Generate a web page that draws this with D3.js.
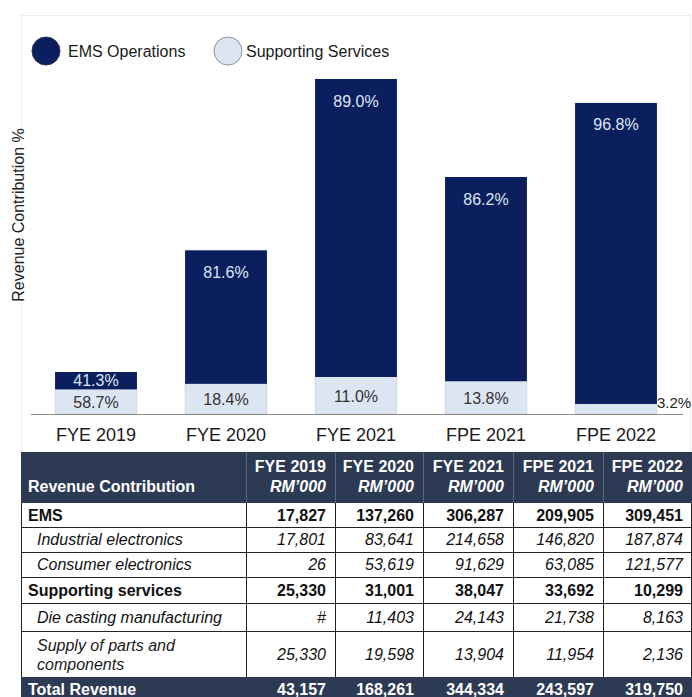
<!DOCTYPE html>
<html>
<head>
<meta charset="utf-8">
<script src="https://cdn.jsdelivr.net/npm/d3@7"></script>
<style>
  html, body { margin: 0; padding: 0; background: #ffffff; }
  svg { display: block; font-family: "Liberation Sans", Arial, sans-serif; }
</style>
</head>
<body>
<svg id="chart" width="692" height="697"></svg>
<script>
// Revenue by period (RM'000)
const periods = ["FYE 2019", "FYE 2020", "FYE 2021", "FPE 2021", "FPE 2022"];
const emsValues = [17827, 137260, 306287, 209905, 309451];
const supportValues = [25330, 31001, 38047, 33692, 10299];
const industrialValues = [17801, 83641, 214658, 146820, 187874];
const consumerValues = [26, 53619, 91629, 63085, 121577];
const dieCastingValues = [null, 11403, 24143, 21738, 8163];
const supplyPartsValues = [25330, 19598, 13904, 11954, 2136];
const totalValues = [43157, 168261, 344334, 243597, 319750];

const seriesNames = ["EMS Operations", "Supporting Services"];
const unitLabel = "RM\u2019000";

const NAVY = "#0b1f5e";
const LIGHT = "#dce6f2";
const HEADER = "#2c3a54";

const svg = d3.select("#chart");

// faint frame around the chart area
svg.append("rect")
  .attr("x", 21.5).attr("y", 15.5).attr("width", 669).attr("height", 437)
  .attr("fill", "none").attr("stroke", "#ececec");

// ---------- bar chart ----------
const x = d3.scaleBand().domain(periods).range([31, 681])
  .paddingInner(0.37).paddingOuter(0.185);
const y = d3.scaleLinear().domain([0, d3.max(totalValues)]).range([414, 79]);

const stackData = periods.map((p, i) => ({ period: p, support: supportValues[i], ems: emsValues[i], total: totalValues[i] }));
const stack = d3.stack().keys(["support", "ems"]);
const layers = stack(stackData);
const pct = d3.format(".1%");

const g = svg.append("g");
layers.forEach(layer => {
  const isEms = layer.key === "ems";
  g.selectAll(null).data(layer).join("rect")
    .attr("x", d => x(d.data.period))
    .attr("width", x.bandwidth())
    .attr("y", d => y(d[1]))
    .attr("height", d => y(d[0]) - y(d[1]))
    .attr("fill", isEms ? NAVY : LIGHT)
    .attr("stroke", isEms ? "none" : "#c5d0de")
    .attr("stroke-width", 0.6);
});

// percentage labels
layers.forEach(layer => {
  const isEms = layer.key === "ems";
  layer.forEach(d => {
    const share = (d[1] - d[0]) / d.data.total;
    const h = y(d[0]) - y(d[1]);
    const cx = x(d.data.period) + x.bandwidth() / 2;
    const t = g.append("text").text(pct(share))
      .attr("font-size", 16).attr("dominant-baseline", "central");
    if (!isEms && h < 16) {
      // segment too thin: label sits just right of the bar
      t.attr("x", x(d.data.period) + x.bandwidth()).attr("y", y(d[1]) - 1)
        .attr("font-size", 15).attr("text-anchor", "start").attr("fill", "#222");
    } else if (isEms) {
      const cy = h < 44 ? (y(d[0]) + y(d[1])) / 2 : y(d[1]) + 22;
      t.attr("x", cx).attr("y", cy).attr("text-anchor", "middle").attr("fill", LIGHT);
    } else {
      t.attr("x", cx).attr("y", (y(d[0]) + y(d[1])) / 2 + 1)
        .attr("text-anchor", "middle").attr("fill", "#333");
    }
  });
});

// baseline
svg.append("line").attr("x1", 31).attr("x2", 683).attr("y1", 414.5).attr("y2", 414.5)
  .attr("stroke", "#8a8a8a").attr("stroke-width", 1.2);

// category axis
const xAxis = svg.append("g").attr("transform", "translate(0,414)")
  .call(d3.axisBottom(x).tickSize(0).tickPadding(14));
xAxis.select(".domain").remove();
xAxis.selectAll("text").attr("font-size", 18).attr("fill", "#1a1a1a")
  .attr("font-family", "Liberation Sans, Arial, sans-serif");

// y-axis title
svg.append("text").text("Revenue Contribution %")
  .attr("transform", "translate(18,215) rotate(-90)")
  .attr("text-anchor", "middle").attr("dominant-baseline", "central")
  .attr("font-size", 16).attr("fill", "#222");

// legend
const legend = svg.append("g");
const legendItems = [
  { name: seriesNames[0], fill: NAVY, stroke: "#2a3550", cx: 46, tx: 68 },
  { name: seriesNames[1], fill: LIGHT, stroke: "#8d9199", cx: 228, tx: 246 }
];
legendItems.forEach(it => {
  legend.append("circle").attr("cx", it.cx).attr("cy", 51).attr("r", 14)
    .attr("fill", it.fill).attr("stroke", it.stroke).attr("stroke-width", 1);
  legend.append("text").text(it.name).attr("x", it.tx).attr("y", 51)
    .attr("dominant-baseline", "central").attr("font-size", 16).attr("fill", "#1a1a1a");
});

// ---------- table ----------
const fmt = d3.format(",");
const colEdges = [21, 246, 335, 423, 513, 603, 692];
const rows = [
  { label: "EMS", values: emsValues, style: "bold", indent: false, top: 503, h: 24 },
  { label: "Industrial electronics", values: industrialValues, style: "italic", indent: true, top: 527, h: 25 },
  { label: "Consumer electronics", values: consumerValues, style: "italic", indent: true, top: 552, h: 25 },
  { label: "Supporting services", values: supportValues, style: "bold", indent: false, top: 577, h: 26 },
  { label: "Die casting manufacturing", values: dieCastingValues, style: "italic", indent: true, top: 603, h: 28 },
  { label: ["Supply of parts and", "components"], values: supplyPartsValues, style: "italic", indent: true, top: 631, h: 46 }
];

const tbl = svg.append("g");
// header band
tbl.append("rect").attr("x", 21).attr("y", 452).attr("width", 671).attr("height", 51).attr("fill", HEADER);
tbl.append("text").text("Revenue Contribution").attr("x", 28).attr("y", 486)
  .attr("dominant-baseline", "central").attr("font-size", 16).attr("font-weight", "bold").attr("fill", "#fff");
periods.forEach((p, i) => {
  const right = colEdges[i + 2] - 9;
  tbl.append("text").text(p).attr("x", right).attr("y", 466).attr("text-anchor", "end")
    .attr("dominant-baseline", "central").attr("font-size", 16).attr("font-weight", "bold").attr("fill", "#fff");
  tbl.append("text").text(unitLabel).attr("x", right).attr("y", 486).attr("text-anchor", "end")
    .attr("dominant-baseline", "central").attr("font-size", 16).attr("font-weight", "bold")
    .attr("font-style", "italic").attr("fill", "#fff");
});
// header separators
colEdges.slice(1, 6).forEach(cx => {
  tbl.append("line").attr("x1", cx + 0.5).attr("x2", cx + 0.5).attr("y1", 452).attr("y2", 503)
    .attr("stroke", "#5b6680").attr("stroke-width", 1);
});

// body rows
rows.forEach(r => {
  const cy = r.top + r.h / 2;
  const lx = r.indent ? 37 : 28;
  if (Array.isArray(r.label)) {
    r.label.forEach((line, k) => {
      tbl.append("text").text(line).attr("x", lx).attr("y", cy - 9 + k * 19)
        .attr("dominant-baseline", "central").attr("font-size", 16)
        .attr("font-style", "italic").attr("fill", "#1a1a1a");
    });
  } else {
    tbl.append("text").text(r.label).attr("x", lx).attr("y", cy)
      .attr("dominant-baseline", "central").attr("font-size", 16)
      .attr("font-weight", r.style === "bold" ? "bold" : "normal")
      .attr("font-style", r.style === "italic" ? "italic" : "normal").attr("fill", "#111");
  }
  r.values.forEach((v, i) => {
    tbl.append("text").text(v === null ? "#" : fmt(v))
      .attr("x", colEdges[i + 2] - 9).attr("y", cy).attr("text-anchor", "end")
      .attr("dominant-baseline", "central").attr("font-size", 16)
      .attr("font-weight", r.style === "bold" ? "bold" : "normal")
      .attr("font-style", r.style === "italic" ? "italic" : "normal").attr("fill", "#111");
  });
  tbl.append("line").attr("x1", 21).attr("x2", 692).attr("y1", r.top + r.h + 0.5).attr("y2", r.top + r.h + 0.5)
    .attr("stroke", "#222").attr("stroke-width", 1);
});

// body verticals
[21, 246, 335, 423, 513, 603, 691].forEach(cx => {
  tbl.append("line").attr("x1", cx + 0.5).attr("x2", cx + 0.5).attr("y1", 503).attr("y2", 677)
    .attr("stroke", "#222").attr("stroke-width", 1);
});

// total row
tbl.append("rect").attr("x", 21).attr("y", 677).attr("width", 671).attr("height", 22).attr("fill", HEADER);
tbl.append("text").text("Total Revenue").attr("x", 28).attr("y", 689)
  .attr("dominant-baseline", "central").attr("font-size", 16).attr("font-weight", "bold").attr("fill", "#fff");
totalValues.forEach((v, i) => {
  tbl.append("text").text(fmt(v)).attr("x", colEdges[i + 2] - 9).attr("y", 689)
    .attr("text-anchor", "end").attr("dominant-baseline", "central")
    .attr("font-size", 16).attr("font-weight", "bold").attr("fill", "#fff");
});
</script>
</body>
</html>
